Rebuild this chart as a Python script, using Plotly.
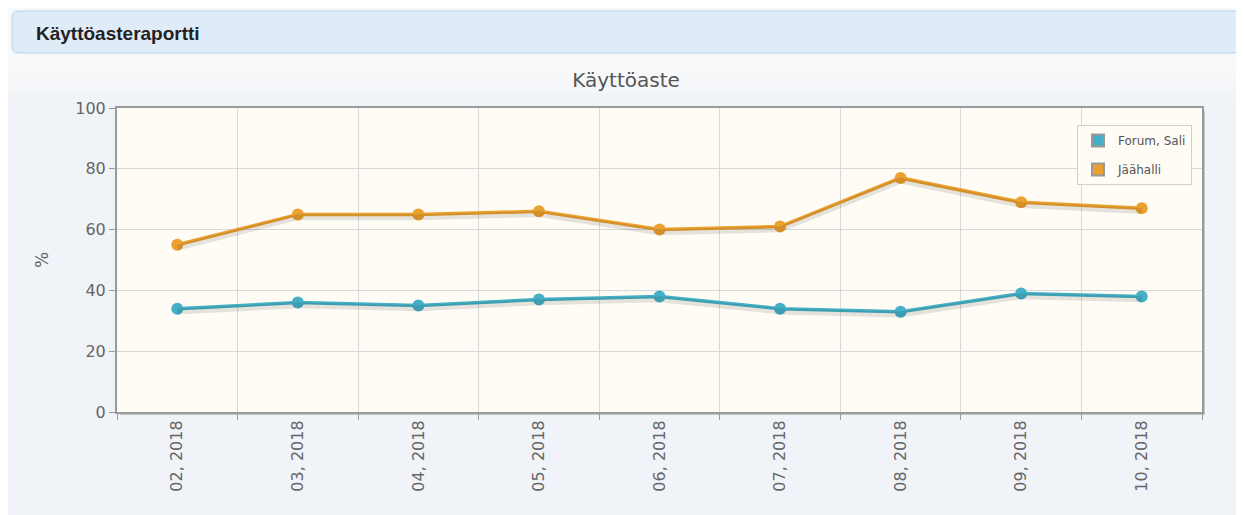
import plotly.graph_objects as go

months = ["02, 2018", "03, 2018", "04, 2018", "05, 2018", "06, 2018",
          "07, 2018", "08, 2018", "09, 2018", "10, 2018"]
forum_sali = [34, 36, 35, 37, 38, 34, 33, 39, 38]
jaahalli = [55, 65, 65, 66, 60, 61, 77, 69, 67]
y_ticks = [0, 20, 40, 60, 80, 100]

BLUE = "#45afc6"
ORANGE = "#eba12f"
# page is offset by the 8px body margin
W, H = 1236, 507
L, R, T, B = 109, 42, 100, 103
PW, PH = W - L - R, H - T - B


def px(x):
    return (x - 8 - L) / PW


def py(y):
    return (H - (y - 8) - B) / PH


def rounded_rect(x0, y0, x1, y1, r):
    pts = [
        f"M {px(x0 + r)},{py(y0)}",
        f"L {px(x1 - r)},{py(y0)}",
        f"Q {px(x1)},{py(y0)} {px(x1)},{py(y0 + r)}",
        f"L {px(x1)},{py(y1 - r)}",
        f"Q {px(x1)},{py(y1)} {px(x1 - r)},{py(y1)}",
        f"L {px(x0 + r)},{py(y1)}",
        f"Q {px(x0)},{py(y1)} {px(x0)},{py(y1 - r)}",
        f"L {px(x0)},{py(y0 + r)}",
        f"Q {px(x0)},{py(y0)} {px(x0 + r)},{py(y0)} Z",
    ]
    return " ".join(pts)


fig = go.Figure()
for name, vals, col in [("Forum, Sali", forum_sali, BLUE), ("Jäähalli", jaahalli, ORANGE)]:
    fig.add_trace(go.Scatter(x=months, y=vals, mode="lines", showlegend=False,
                             line=dict(color="rgba(0,0,0,0.10)", width=6), hoverinfo="skip",
                             yaxis="y2"))
    fig.add_trace(go.Scatter(x=months, y=vals, mode="lines+markers", name=name,
                             showlegend=False, line=dict(color=col, width=3.5),
                             marker=dict(color=col, size=12)))
for name, col in [("Forum, Sali", BLUE), ("Jäähalli", ORANGE)]:
    fig.add_trace(go.Scatter(x=[None], y=[None], mode="markers", name=name, legendgroup=name,
                             marker=dict(color=col, symbol="square", size=14,
                                         line=dict(color="#999", width=1))))

# soft vertical gradient at top of panel
grad_cols = ["#f8f9fb", "#f6f8fa", "#f4f6f9", "#f2f5f8"]
grad_shapes = []
for i, c in enumerate(grad_cols):
    grad_shapes.append(dict(type="rect", xref="paper", yref="paper", layer="below",
                            x0=px(8), x1=px(1244), y0=py(62 + 10 * (i + 1)), y1=py(8 if i == 0 else 62 + 10 * i),
                            fillcolor=c, line=dict(width=0)))

fig.update_layout(
    width=W, height=H,
    margin=dict(l=L, r=R, t=T, b=B),
    paper_bgcolor="#f0f4f8",
    plot_bgcolor="#fffcf5",
    font=dict(family="DejaVu Sans", color="#666666"),
    title=dict(text="Käyttöaste", x=0.5, xanchor="center", y=1 - (80 - 8) / H, yanchor="middle",
               font=dict(size=20, color="#555555", family="DejaVu Sans")),
    xaxis=dict(type="category", tickson="boundaries", tickangle=-90,
               showgrid=True, gridcolor="#d8d8d8", gridwidth=1,
               showline=True, linecolor="#9a9a9a", linewidth=2, mirror=True,
               ticks="outside", ticklen=6, tickcolor="#9a9a9a",
               tickfont=dict(size=16, color="#666666"), range=[-0.5, 8.5]),
    yaxis=dict(range=[0, 100], tickvals=y_ticks, showgrid=True, gridcolor="#d8d8d8",
               showline=True, linecolor="#9a9a9a", linewidth=2, mirror=True,
               ticks="outside", ticklen=6, tickcolor="#9a9a9a", zeroline=False,
               tickfont=dict(size=16, color="#666666"),
               title=dict(text="%", font=dict(size=17, color="#666666"), standoff=22)),
    yaxis2=dict(range=[0.9, 100.9], overlaying="y", visible=False),
    legend=dict(x=px(1077), xanchor="left", y=py(125), yanchor="top",
                bgcolor="#fffcf5", bordercolor="#d0d0d0", borderwidth=1,
                tracegroupgap=10,
                font=dict(size=12, color="#555555"), itemsizing="constant"),
    shapes=grad_shapes + [
        dict(type="path", xref="paper", yref="paper", layer="below",
             path=rounded_rect(12, 11, 1240, 53, 7),
             fillcolor="#dfecf8", line=dict(color="#b7d1ea", width=1)),
        # plot shadow
        dict(type="rect", xref="paper", yref="paper", layer="below",
             x0=1, x1=1 + 3 / PW, y0=-3 / PH, y1=1 - 3 / PH,
             fillcolor="rgba(0,0,0,0.18)", line=dict(width=0)),
        dict(type="rect", xref="paper", yref="paper", layer="below",
             x0=3 / PW, x1=1, y0=-3 / PH, y1=0,
             fillcolor="rgba(0,0,0,0.18)", line=dict(width=0)),
    ],
    annotations=[
        dict(text="<b>Käyttöasteraportti</b>", xref="paper", yref="paper",
             x=px(34), y=py(33), xanchor="left", yanchor="middle",
             showarrow=False, font=dict(size=19, color="#222222", family="Liberation Sans")),
    ],
)

fig.write_html("out.html")
